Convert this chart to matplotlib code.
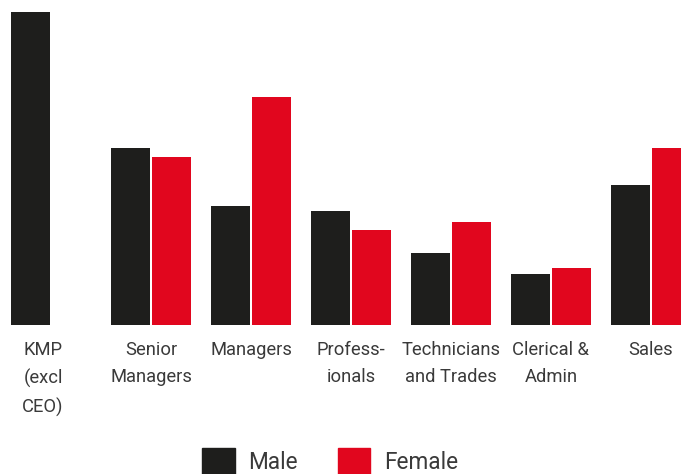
import matplotlib
matplotlib.use("Agg")
import matplotlib.pyplot as plt
import matplotlib.transforms as mtransforms
from matplotlib.patches import Patch
import numpy as np

plt.rcParams['font.family'] = ['Roboto', 'DejaVu Sans']

categories = ["KMP\n(excl\nCEO)", "Senior\nManagers", "Managers", "Profess-\nionals",
              "Technicians\nand Trades", "Clerical &\nAdmin", "Sales"]
male = [100, 56.5, 38.0, 36.4, 23.0, 16.3, 44.7]
female = [0, 53.7, 72.8, 30.4, 32.9, 18.2, 56.5]

MALE_COLOR = "#1e1e1c"
FEMALE_COLOR = "#e1061e"
TEXT_COLOR = "#3a3a3a"

fig = plt.figure(figsize=(6.81, 4.74), dpi=100)
# axes spans baseline (y=325px) up to the tallest bar (y=12px)
ax = fig.add_axes([0, 149 / 474, 1, 313 / 474])

x = np.arange(len(categories))
w = 0.39
ax.bar(x - 0.205, male, width=w, color=MALE_COLOR, clip_on=False)
ax.bar(x + 0.205, female, width=w, color=FEMALE_COLOR, clip_on=False)

ax.set_xlim(-0.51, 6.30)
ax.set_ylim(0, 100)
ax.axis("off")

# category labels under the groups
trans = mtransforms.blended_transform_factory(ax.transData, fig.transFigure)
label_x = x.astype(float)
label_x[0] -= 0.08
for lx, lab in zip(label_x, categories):
    ax.text(lx, 1 - 341 / 474, lab, transform=trans, ha="center", va="top",
            fontsize=13.2, color=TEXT_COLOR, linespacing=1.66)

handles = [Patch(color=MALE_COLOR, label="Male"), Patch(color=FEMALE_COLOR, label="Female")]
fig.legend(handles=handles, loc="upper left", bbox_to_anchor=(202 / 681, 1 - 448 / 474),
           ncol=2, frameon=False, borderpad=0, borderaxespad=0,
           handlelength=1.45, handleheight=1.45, handletextpad=0.6, columnspacing=1.75,
           labelcolor=TEXT_COLOR, prop={"size": 16.3})

fig.savefig("out.png", dpi=100)
